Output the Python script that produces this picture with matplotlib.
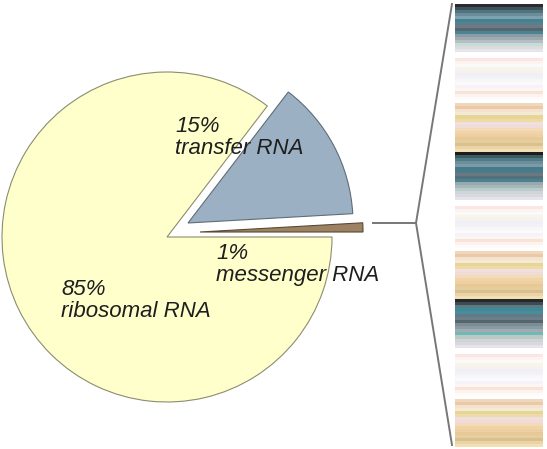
import matplotlib
matplotlib.use("Agg")
import matplotlib.pyplot as plt
import numpy as np
from matplotlib.colors import to_rgb

# ---- data ----
categories = ["messenger RNA", "transfer RNA", "ribosomal RNA"]
shares = [0.9, 13.7, 85.4]          # wedge sizes
pct_labels = ["1%", "15%", "85%"]   # printed labels
slice_colors = ["#9c8262", "#9bb0c2", "#ffffcc"]
edge_colors = ["#5a4a35", "#5f6d78", "#8c8c6e"]

dark_s1 = ["#2c2a30", "#3d545c", "#4e7480", "#6d8c9a", "#80a0ae", "#3f8494",
           "#5d7d8b", "#6c7a86", "#56666f", "#4a8494", "#8a9ca6", "#9ea9b1",
           "#b3c0c2", "#c8dbd8", "#d9dddd", "#e6e6ea"]
dark_s2 = ["#1c1c1e", "#3a5a60", "#4d7c86", "#6b8e9a", "#7e9aa8", "#407e8c",
           "#4f7888", "#6a7884", "#54707b", "#4c8290", "#98a8b0", "#a8b6ba",
           "#b8ccca", "#cfd5d8", "#d8d8e0", "#e4e4ea"]
dark_s3 = ["#26282a", "#3c4c52", "#5a7a84", "#3f8a98", "#4b8c98", "#5e7c88",
           "#6e7e88", "#56646c", "#7a8c96", "#8a9aa2", "#a0acb0", "#70b8b8",
           "#bcc8c6", "#cdd6d2", "#d8d8de", "#e6e4ea"]
pastel = ["#fbe6e3", "#fdf3f1", "#fbfafb", "#f8f4ea", "#f6f3ef", "#efeff5",
          "#f2f1f6", "#f7f6f8", "#fafafa", "#f7f2f8", "#faf6f4", "#f9e3d6",
          "#fcf3ee", "#fdfbfa"]
tan = ["#f0d6ba", "#ecc9a6", "#f5e2cd", "#f3ead6", "#e6d596", "#ecdba2",
       "#f2dde0", "#efdcd6", "#f3dab8", "#f1d3a8", "#eecf9f", "#e9c898",
       "#e6cd9c", "#d9c08f", "#ebd3a6", "#f2dfb4"]

label_text = [f"{p}\n{c}" for p, c in zip(pct_labels, categories)]

# ---- figure ----
W, H = 547, 449
fig = plt.figure(figsize=(W / 100, H / 100), dpi=100)
ax = fig.add_axes([0, 0, 1, 1])

R = 165
wedges, _ = ax.pie(shares, colors=slice_colors, startangle=0, counterclock=True,
                   radius=R, center=(167, H - 237), frame=True,
                   wedgeprops=dict(linewidth=0.8))
for w, ec in zip(wedges, edge_colors):
    w.set_edgecolor(ec)
# offsets of the pulled-out slices
wedges[1].set_center((188, H - 223))   # transfer RNA
wedges[0].set_center((200, H - 232))   # messenger RNA
wedges[0].set_radius(163)

# labels
font = dict(family="Liberation Sans", style="italic", size=16, color="#1e1e1e",
            linespacing=1.07, ha="left", va="top")
ax.text(175, H - 116, label_text[1], **font)
ax.text(216, H - 243, label_text[0], **font)
ax.text(61, H - 279, label_text[2], **font)

# connector lines
lc = "#777777"
ax.plot([372, 416], [H - 223, H - 223], color=lc, lw=1.4, solid_capstyle="butt")
ax.plot([452, 416, 452], [H - 4, H - 223, H - 445], color=lc, lw=1.4)

# stripe strip
white = ["#ffffff"]
column = []
for dark in (dark_s1, dark_s2, dark_s3):
    column += dark + white * 2 + pastel + white + tan
img = np.array([to_rgb(c) for c in column]).reshape(-1, 1, 3)
ax.imshow(img, extent=(455, 543, H - 447, H - 4), aspect="auto",
          interpolation="nearest", zorder=3)

ax.set_xlim(0, W)
ax.set_ylim(0, H)
ax.set_aspect("equal")
ax.axis("off")

fig.savefig("out.png", dpi=100)
